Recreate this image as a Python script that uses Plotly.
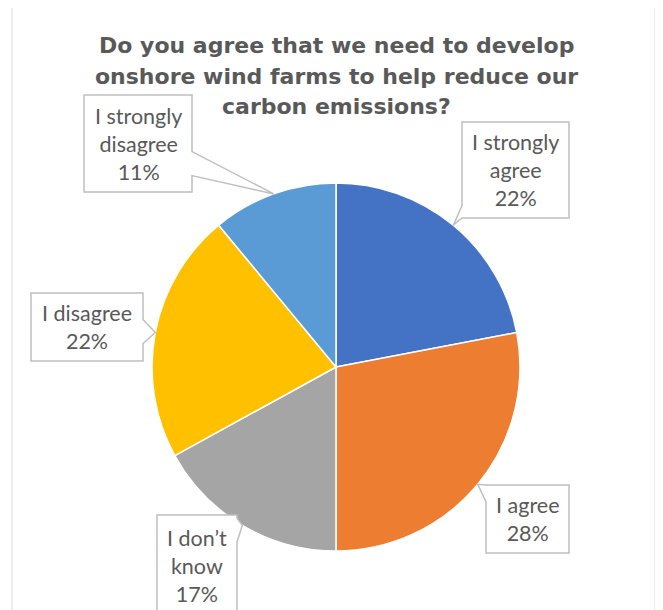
import math
import plotly.graph_objects as go

# ---- data ----
categories = ["I strongly agree", "I agree", "I don\u2019t know", "I disagree", "I strongly disagree"]
label_lines = ["I strongly<br>agree", "I agree", "I don\u2019t<br>know", "I disagree", "I strongly<br>disagree"]
values = [22, 28, 17, 22, 11]
colors = ["#4472C4", "#ED7D31", "#A5A5A5", "#FFC000", "#5B9BD5"]
title_lines = ["Do you agree that we need to develop",
               "onshore wind farms to help reduce our",
               "carbon emissions?"]

# ---- layout (pixel geometry, in screen pixels) ----
W, H = 663, 610
OFF = 8  # page body margin
CX, CY, R = 336, 367, 184
title_y = [45, 76, 106]
# callout boxes: x0, y0, x1, y1
boxes = [
    (462, 122, 569, 218),
    (486, 485, 569, 553),
    (157, 515, 237, 617),
    (31, 293, 143, 361),
    (84, 95, 192, 192),
]
TXT = "#595959"
EDGE = "#BFBFBF"

fig = go.Figure()
fig.add_trace(go.Pie(
    labels=categories, values=values, sort=False, direction="clockwise", rotation=0,
    marker=dict(colors=colors, line=dict(color="white", width=1.5)),
    textinfo="none", hoverinfo="label+percent", showlegend=False,
    domain=dict(x=[(CX - R - OFF) / W, (CX + R - OFF) / W],
                y=[(H - (CY + R - OFF)) / H, (H - (CY - R - OFF)) / H]),
))


def callout_path(x0, y0, x1, y1, tx, ty, hw=12):
    cx, cy = (x0 + x1) / 2, (y0 + y1) / 2
    dx, dy = tx - cx, ty - cy
    hwid, hhei = (x1 - x0) / 2, (y1 - y0) / 2
    if abs(dx) / hwid >= abs(dy) / hhei:
        edge = "right" if dx > 0 else "left"
        xe = x1 if dx > 0 else x0
        t = (xe - cx) / dx
        m = cy + t * dy
        a, b = max(y0, m - hw), min(y1, m + hw)
    else:
        edge = "bottom" if dy > 0 else "top"
        ye = y1 if dy > 0 else y0
        t = (ye - cy) / dy
        m = cx + t * dx
        a, b = max(x0, m - hw), min(x1, m + hw)
    pts = [(x0, y0)]
    if edge == "top":
        pts += [(a, y0), (tx, ty), (b, y0)]
    pts.append((x1, y0))
    if edge == "right":
        pts += [(x1, a), (tx, ty), (x1, b)]
    pts.append((x1, y1))
    if edge == "bottom":
        pts += [(b, y1), (tx, ty), (a, y1)]
    pts.append((x0, y1))
    if edge == "left":
        pts += [(x0, b), (tx, ty), (x0, a)]
    return "M " + " L ".join(f"{px:.1f},{py:.1f}" for px, py in pts) + " Z"


total = sum(values)
cum = 0
for i, v in enumerate(values):
    mid = (cum + v / 2) / total * 2 * math.pi
    cum += v
    tx = CX + R * math.sin(mid)
    ty = CY - R * math.cos(mid)
    x0, y0, x1, y1 = boxes[i]
    fig.add_shape(type="path", path=callout_path(x0, y0, x1, y1, tx, ty),
                  xref="x", yref="y", fillcolor="white",
                  line=dict(color=EDGE, width=1.5), layer="above")
    pct = round(v / total * 100)
    fig.add_annotation(x=(x0 + x1) / 2, y=(y0 + y1) / 2, xref="x", yref="y",
                       text=f"{label_lines[i]}<br>{pct}%", showarrow=False,
                       font=dict(family="Lato", size=21.5, color=TXT),
                       xanchor="center", yanchor="middle")

for line, ty in zip(title_lines, title_y):
    fig.add_annotation(x=CX, y=ty, xref="x", yref="y", text=f"<b>{line}</b>",
                       showarrow=False, xanchor="center", yanchor="middle",
                       font=dict(family="DejaVu Sans", size=22, color=TXT))

# outer chart frame
fig.add_shape(type="rect", x0=12, y0=5, x1=655, y1=700, xref="x", yref="y",
              line=dict(color="#D9D9D9", width=1), fillcolor="rgba(0,0,0,0)", layer="below")

fig.update_layout(
    width=W, height=H,
    margin=dict(l=0, r=0, t=0, b=0),
    paper_bgcolor="white", plot_bgcolor="white",
    xaxis=dict(range=[OFF, W + OFF], visible=False, fixedrange=True),
    yaxis=dict(range=[H + OFF, OFF], visible=False, fixedrange=True),
)

fig.write_html("out.html")
